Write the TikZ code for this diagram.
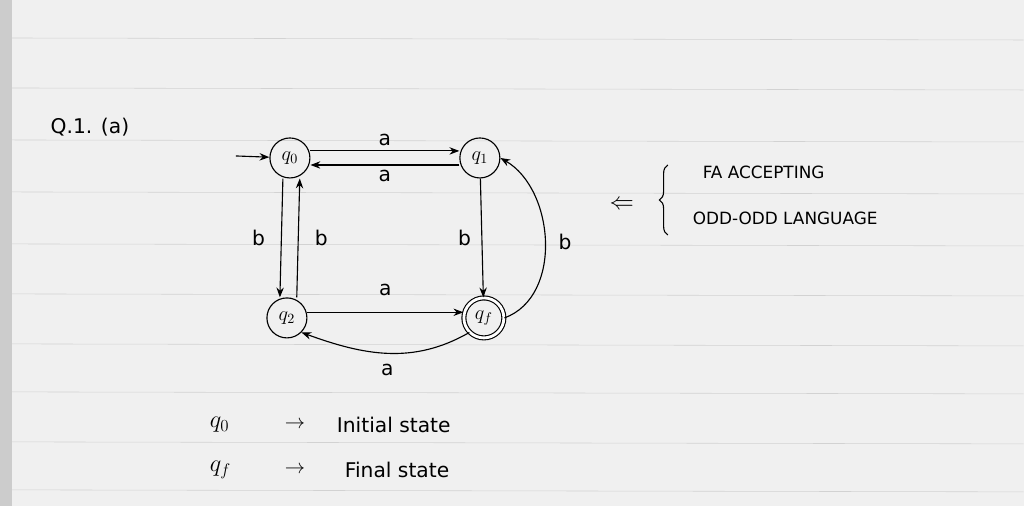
\documentclass[tikz,border=0pt]{standalone}
\usepackage{fontspec}
\setmainfont{DejaVu Sans}
\usetikzlibrary{arrows.meta,decorations.pathreplacing}
\begin{document}
\begin{tikzpicture}[x=0.025cm,y=-0.025cm,
  st/.style={circle,draw,thick,minimum size=40*0.025cm,inner sep=0pt,font=\Large},
  fin/.style={st,double,double distance=2pt},
  ed/.style={thick,-{Stealth[length=7pt]}},
  lb/.style={font=\Large},
  hand/.style={font=\Large}]
\fill[gray!12] (0,0) rectangle (1024,506);
\fill[gray!40] (0,0) rectangle (12,506);
\foreach \y in {38,88,140,192,244,294,344,392,442,490}
  \draw[gray!35,thin] (12,\y) -- (1024,\y+2);
\useasboundingbox (0,0) rectangle (1024,506);
\node[hand] (title) at (90,127) {Q.1. (a)};
\node[st] (q0) at (290,158) {$q_0$};
\node[st] (q1) at (480,158) {$q_1$};
\node[st] (q2) at (287,318) {$q_2$};
\node[fin] (qf) at (484,318) {$q_f$};
\coordinate (init) at (236,156);
\draw[ed] (init) -- (q0);
\draw[ed] ([yshift=5pt]q0.east) -- node[lb,above] {a} ([yshift=5pt]q1.west);
\draw[ed] ([yshift=-5pt]q1.west) -- node[lb,below] {a} ([yshift=-5pt]q0.west-|q0.east);
\draw[ed] ([xshift=-5pt]q0.south) -- node[lb,left=8pt] {b} ([xshift=-5pt]q2.north);
\draw[ed] ([xshift=7pt]q2.north) -- node[lb,right=8pt] {b} ([xshift=7pt]q0.south);
\draw[ed] (q1) -- node[lb,left=4pt] {b} (qf);
\draw[ed] (qf.east) to[out=20,in=-30] node[lb,right=6pt] {b} (q1.east);
\draw[ed] ([yshift=4pt]q2.east) -- node[lb,above=8pt] {a} ([yshift=4pt]qf.west);
\draw[ed] (qf.south west) to[out=-150,in=-20] node[lb,below=4pt] {a} (q2.south east);
\node[font=\LARGE] (arr) at (622,205) {$\Leftarrow$};
\draw[thick,decorate,decoration={brace,amplitude=6pt}] (668,235) -- (668,165);
\node[anchor=west,font=\large] (t1) at (698,172) {FA ACCEPTING};
\node[anchor=west,font=\large] (t2) at (688,218) {ODD-ODD LANGUAGE};
\node[anchor=west,font=\Large] (l1a) at (205,425) {\LARGE$q_0$};
\node[anchor=west,font=\Large] (l1b) at (280,425) {$\rightarrow$};
\node[anchor=west,font=\Large] (l1c) at (332,425) {Initial state};
\node[anchor=west,font=\Large] (l2a) at (205,470) {\LARGE$q_f$};
\node[anchor=west,font=\Large] (l2b) at (280,470) {$\rightarrow$};
\node[anchor=west,font=\Large] (l2c) at (340,470) {Final state};
\end{tikzpicture}
\end{document}
